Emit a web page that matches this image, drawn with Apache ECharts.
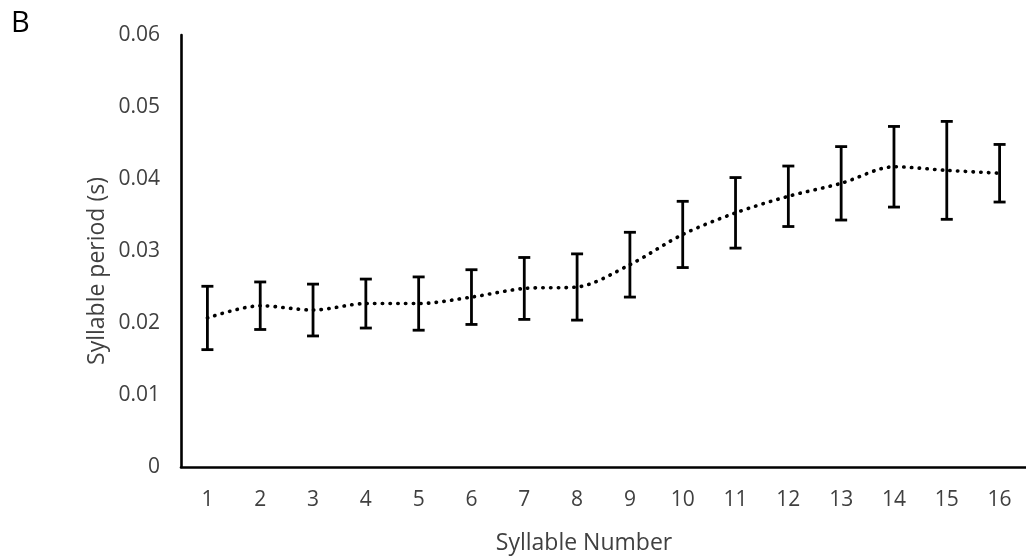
<!DOCTYPE html>
<html>
<head>
<meta charset="utf-8">
<style>
  html, body { margin: 0; padding: 0; background: #fff; }
  #chart { width: 1026px; height: 559px; }
</style>
<script src="https://cdn.jsdelivr.net/npm/echarts@6/dist/echarts.min.js"></script>
</head>
<body>
<div id="chart"></div>
<script>
// Syllable number on the x axis
const syllables = ['1','2','3','4','5','6','7','8','9','10','11','12','13','14','15','16'];
// Mean syllable period (s)
const meanPeriod = [0.0207, 0.0224, 0.0218, 0.0227, 0.0227, 0.0236, 0.0248, 0.0250,
                    0.0281, 0.0323, 0.0353, 0.0376, 0.0394, 0.0417, 0.0412, 0.0408];
// Error (± half-range of each bar, s)
const periodError = [0.0044, 0.0033, 0.0036, 0.0034, 0.0037, 0.0038, 0.0043, 0.0046,
                     0.0045, 0.0046, 0.0049, 0.0042, 0.0051, 0.0056, 0.0068, 0.0040];
// Y axis tick range
const yTicks = { min: 0, max: 0.06, step: 0.01 };

const FONT = '"Open Sans", sans-serif';
const TEXT = '#404040';

const errorData = meanPeriod.map((m, i) => [i, m - periodError[i], m + periodError[i]]);

const chart = echarts.init(document.getElementById('chart'), null, { renderer: 'canvas' });

chart.setOption({
  animation: false,
  backgroundColor: '#fff',
  grid: { left: 181, right: -6, top: 35, bottom: 92 },
  xAxis: {
    type: 'category',
    data: syllables,
    boundaryGap: true,
    axisLine: { lineStyle: { color: '#000', width: 2.6 } },
    axisTick: { show: false },
    axisLabel: { color: TEXT, fontFamily: FONT, fontSize: 21, margin: 23 },
    splitLine: { show: false }
  },
  yAxis: {
    type: 'value',
    min: yTicks.min,
    max: yTicks.max,
    interval: yTicks.step,
    axisLine: { show: true, lineStyle: { color: '#000', width: 2.6 } },
    axisTick: { show: false },
    axisLabel: { color: TEXT, fontFamily: FONT, fontSize: 21, margin: 21,
                 formatter: v => (v === 0 ? '0' : v.toFixed(2)) },
    splitLine: { show: false }
  },
  graphic: [
    { type: 'text', left: 11, top: 9,
      style: { text: 'B', fontFamily: FONT, fontSize: 29, fill: '#000' } },
    { type: 'text', x: 97, y: 271, rotation: Math.PI / 2,
      style: { text: 'Syllable period (s)', fontFamily: FONT, fontSize: 23, fill: TEXT,
               align: 'center', verticalAlign: 'middle' } },
    { type: 'text', x: 584, y: 543,
      style: { text: 'Syllable Number', fontFamily: FONT, fontSize: 23, fill: TEXT,
               align: 'center', verticalAlign: 'middle' } }
  ],
  series: [
    {
      type: 'line',
      data: meanPeriod,
      smooth: 0.3,
      symbol: 'none',
      lineStyle: { color: '#000', width: 3.6, type: [0.4, 7.3], cap: 'round' },
      z: 2
    },
    {
      type: 'custom',
      data: errorData,
      z: 3,
      renderItem: (params, api) => {
        const x = api.coord([api.value(0), api.value(1)])[0];
        const yLow = api.coord([api.value(0), api.value(1)])[1];
        const yHigh = api.coord([api.value(0), api.value(2)])[1];
        const half = 6;
        const style = { stroke: '#000', lineWidth: 2.8 };
        return {
          type: 'group',
          children: [
            { type: 'line', shape: { x1: x, y1: yLow, x2: x, y2: yHigh }, style },
            { type: 'line', shape: { x1: x - half, y1: yLow, x2: x + half, y2: yLow }, style },
            { type: 'line', shape: { x1: x - half, y1: yHigh, x2: x + half, y2: yHigh }, style }
          ]
        };
      }
    }
  ]
});
</script>
</body>
</html>
